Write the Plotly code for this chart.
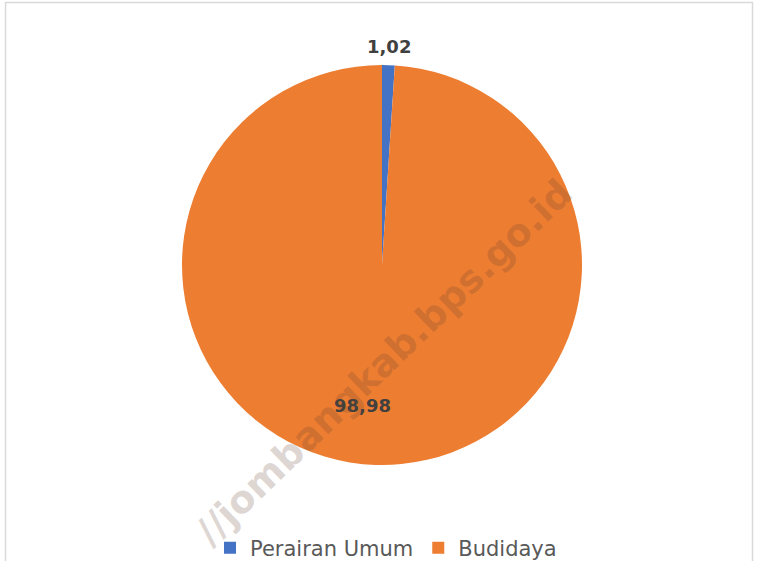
import plotly.graph_objects as go

categories = ["Perairan Umum", "Budidaya"]
values = [1.02, 98.98]
colors = ["#4472C4", "#ED7D31"]

W, H = 760, 561

def px(x):
    return x / W

def py(y):
    return 1 - y / H

fig = go.Figure()
fig.add_trace(go.Pie(
    labels=categories,
    values=values,
    sort=False,
    direction="clockwise",
    rotation=0,
    marker=dict(colors=colors, line=dict(width=0)),
    textinfo="none",
    hoverinfo="label+value",
    domain=dict(x=[px(182), px(582)], y=[py(465), py(65)]),
))

def fmt(v):
    return f"{v:.2f}".replace(".", ",")

label_pos = [(389, 46), (362, 405)]
for v, (x, y) in zip(values, label_pos):
    fig.add_annotation(
        x=px(x), y=py(y), xref="paper", yref="paper",
        xanchor="center", yanchor="middle",
        text=f"<b>{fmt(v)}</b>", showarrow=False,
        font=dict(family="DejaVu Sans", size=18, color="#404040"),
    )

# watermark
fig.add_annotation(
    x=px(384), y=py(362), xref="paper", yref="paper",
    xanchor="center", yanchor="middle",
    text="<b>//jombangkab.bps.go.id</b>", showarrow=False,
    textangle=-44,
    font=dict(family="DejaVu Sans", size=38, color="rgba(100,70,50,0.22)"),
)

fig.add_shape(
    type="rect", xref="paper", yref="paper",
    x0=px(5.5), x1=px(752.5), y0=-0.02, y1=py(2.5),
    line=dict(color="#d9d9d9", width=1.5),
)

fig.update_layout(
    width=W, height=H,
    margin=dict(l=0, r=0, t=0, b=0, autoexpand=False),
    paper_bgcolor="white",
    plot_bgcolor="white",
    showlegend=True,
    legend=dict(
        orientation="h",
        x=px(386), xanchor="center",
        y=py(548), yanchor="middle",
        font=dict(family="DejaVu Sans", size=21, color="#595959"),
        itemwidth=30,
    ),
)

fig.write_html(
    "out.html",
    config={"displayModeBar": False},
    post_script="document.body.style.margin='0';document.body.style.padding='0';document.body.style.overflow='hidden';",
)
